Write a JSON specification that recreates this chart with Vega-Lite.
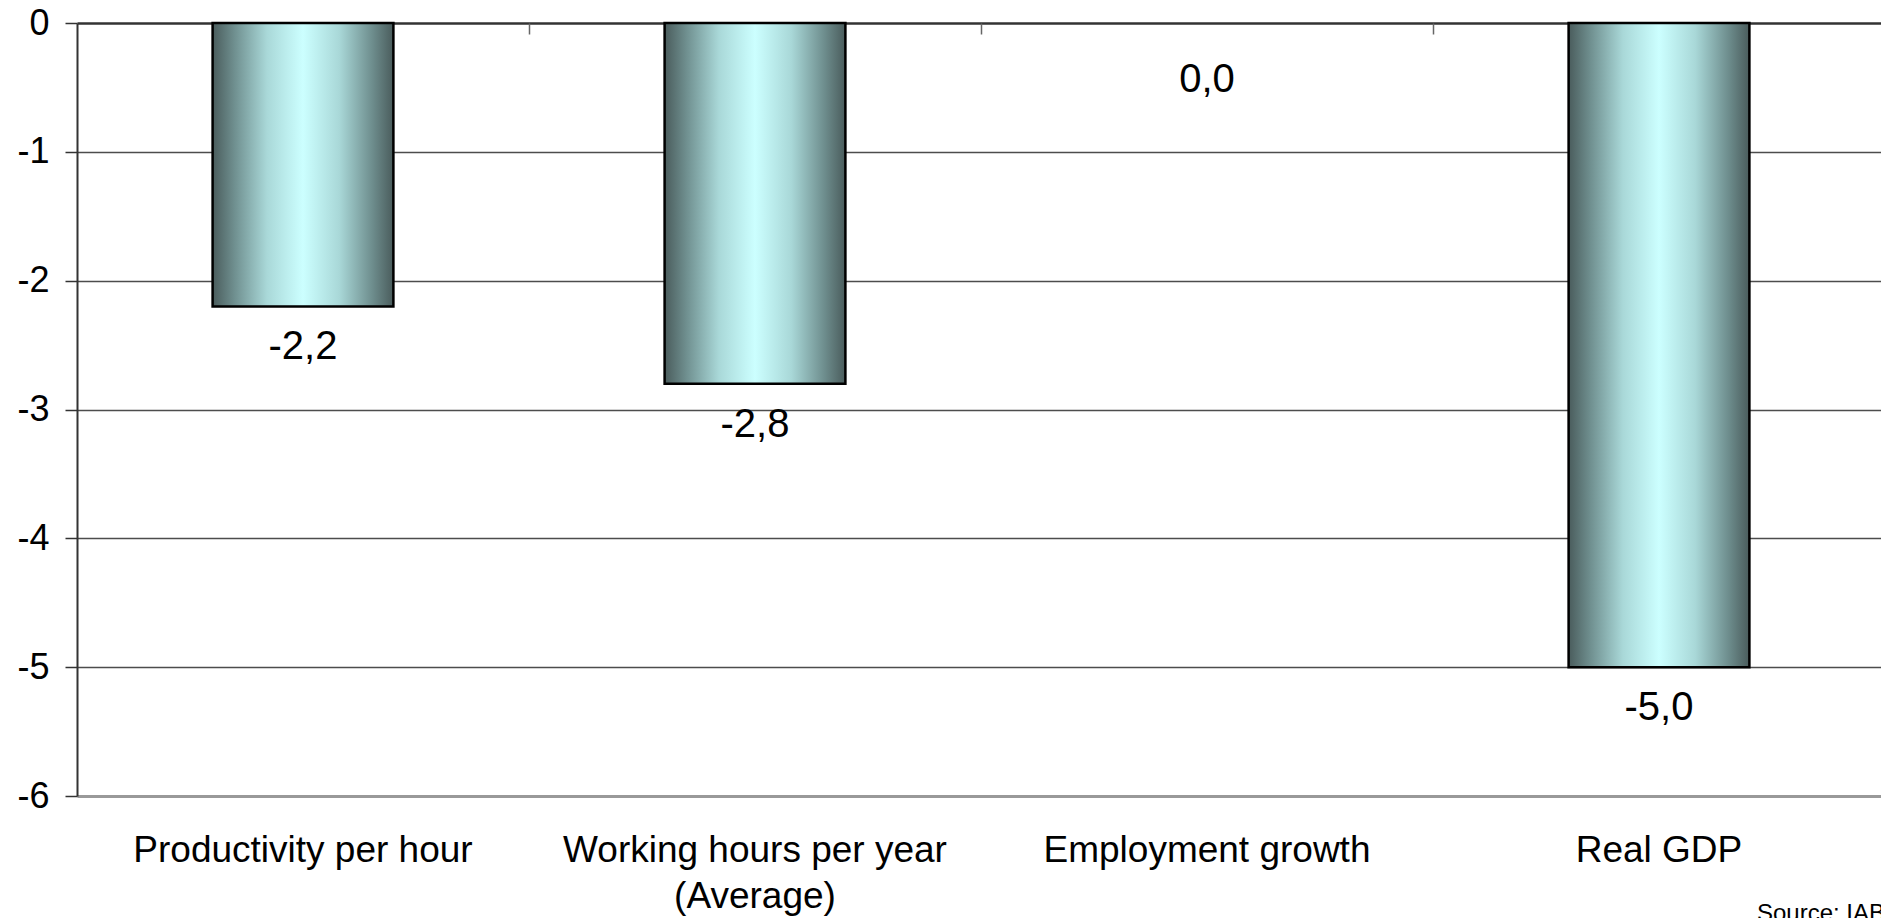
{
  "$schema": "https://vega.github.io/schema/vega-lite/v6.json",
  "width": 1808,
  "height": 773,
  "autosize": {"type": "none"},
  "padding": {"left": 77, "top": 23, "right": 0, "bottom": 122},
  "background": "white",
  "title": {
    "text": "Source: IAB",
    "orient": "bottom",
    "anchor": "end",
    "frame": "group",
    "offset": -12,
    "baseline": "top",
    "font": "Liberation Sans",
    "fontSize": 24,
    "fontWeight": "normal",
    "color": "black"
  },
  "config": {
    "view": {"stroke": null},
    "locale": {
      "number": {"decimal": ",", "thousands": ".", "grouping": [3], "currency": ["", " €"], "minus": "-"}
    },
    "axis": {"labelFont": "Liberation Sans", "labelColor": "black", "titleFont": "Liberation Sans"}
  },
  "data": {
    "values": [
      {"category": "Productivity per hour", "value": -2.2},
      {"category": "Working hours per year (Average)", "value": -2.8},
      {"category": "Employment growth", "value": 0.0},
      {"category": "Real GDP", "value": -5.0}
    ]
  },
  "resolve": {"axis": {"x": "independent"}},
  "layer": [
    {
      "mark": {
        "type": "bar",
        "stroke": "black",
        "color": {
          "gradient": "linear",
          "x1": 0, "x2": 1, "y1": 0, "y2": 0,
          "stops": [
            {"offset": 0, "color": "#4a5c5c"},
            {"offset": 0.12, "color": "#6f8f8f"},
            {"offset": 0.3, "color": "#a9d8d8"},
            {"offset": 0.5, "color": "#ccffff"},
            {"offset": 0.7, "color": "#a9d8d8"},
            {"offset": 0.88, "color": "#6f8f8f"},
            {"offset": 1, "color": "#4a5c5c"}
          ]
        }
      },
      "encoding": {
        "x": {
          "field": "category",
          "type": "nominal",
          "sort": null,
          "scale": {"paddingInner": 0.6, "paddingOuter": 0.3},
          "axis": {
            "orient": "bottom",
            "title": null,
            "domain": false,
            "ticks": false,
            "tickSize": 0,
            "grid": false,
            "labelAngle": 0,
            "labelFontSize": 37,
            "labelPadding": 36,
            "labelLimit": 0,
            "labelLineHeight": 46,
            "labelExpr": "datum.label == 'Working hours per year (Average)' ? ['Working hours per year', '(Average)'] : datum.label"
          }
        },
        "y": {
          "field": "value",
          "type": "quantitative",
          "scale": {"domain": [-6, 0], "nice": false, "zero": false},
          "axis": {
            "title": null,
            "values": [0, -1, -2, -3, -4, -5, -6],
            "format": "d",
            "labelFontSize": 36,
            "labelPadding": 16,
            "tickSize": 12,
            "tickColor": "#333333",
            "tickWidth": 1.5,
            "domain": true,
            "domainColor": "#333333",
            "domainWidth": 2,
            "grid": true,
            "gridColor": {
              "condition": [
                {"test": "datum.value === -6", "value": "#999999"},
                {"test": "datum.value === 0", "value": "#333333"}
              ],
              "value": "#4d4d4d"
            },
            "gridWidth": {
              "condition": [
                {"test": "datum.value === -6", "value": 3},
                {"test": "datum.value === 0", "value": 2.5}
              ],
              "value": 1.5
            }
          }
        },
        "strokeWidth": {"condition": {"test": "datum.value === 0", "value": 0}, "value": 2.5}
      }
    },
    {
      "transform": [{"filter": "datum.value < 0"}],
      "mark": {
        "type": "text",
        "baseline": "middle",
        "align": "center",
        "dy": 41,
        "font": "Liberation Sans",
        "fontSize": 40,
        "color": "black"
      },
      "encoding": {
        "x": {
          "field": "category",
          "type": "nominal",
          "sort": null,
          "axis": {
            "orient": "top",
            "title": null,
            "labels": false,
            "grid": false,
            "domain": false,
            "ticks": true,
            "tickBand": "center",
            "tickOffset": 226,
            "tickSize": 11,
            "offset": -11,
            "tickColor": "#666666",
            "tickWidth": 1.5
          }
        },
        "y": {"field": "value", "type": "quantitative"},
        "text": {"field": "value", "type": "quantitative", "format": ".1f"}
      }
    },
    {
      "transform": [{"filter": "datum.value === 0"}],
      "mark": {
        "type": "text",
        "baseline": "middle",
        "align": "center",
        "dy": 57,
        "font": "Liberation Sans",
        "fontSize": 40,
        "color": "black"
      },
      "encoding": {
        "x": {"field": "category", "type": "nominal", "sort": null, "axis": null},
        "y": {"field": "value", "type": "quantitative"},
        "text": {"field": "value", "type": "quantitative", "format": ".1f"}
      }
    }
  ]
}
